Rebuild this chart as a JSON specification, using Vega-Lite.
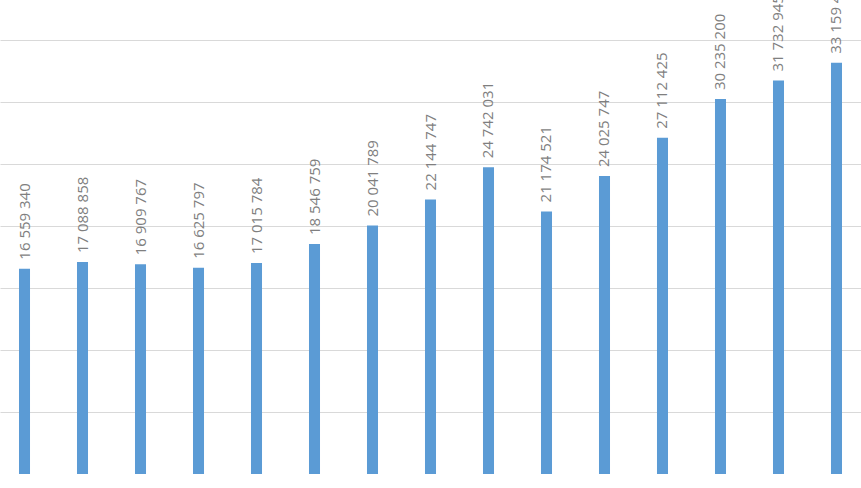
{
  "$schema": "https://vega.github.io/schema/vega-lite/v6.json",
  "width": 861,
  "height": 474,
  "padding": 0,
  "autosize": {"type": "none"},
  "background": "white",
  "config": {
    "view": {"stroke": null},
    "locale": {"number": {"decimal": ",", "thousands": " ", "grouping": [3], "currency": ["", ""]}}
  },
  "data": {"values": [
    {"year": "2005", "value": 16559340},
    {"year": "2006", "value": 17088858},
    {"year": "2007", "value": 16909767},
    {"year": "2008", "value": 16625797},
    {"year": "2009", "value": 17015784},
    {"year": "2010", "value": 18546759},
    {"year": "2011", "value": 20041789},
    {"year": "2012", "value": 22144747},
    {"year": "2013", "value": 24742031},
    {"year": "2014", "value": 21174521},
    {"year": "2015", "value": 24025747},
    {"year": "2016", "value": 27112425},
    {"year": "2017", "value": 30235200},
    {"year": "2018", "value": 31732945},
    {"year": "2019", "value": 33159412}
  ]},
  "encoding": {
    "x": {"field": "year", "type": "ordinal",
      "scale": {"paddingInner": 0.81, "paddingOuter": 0.3275},
      "axis": null},
    "y": {"field": "value", "type": "quantitative",
      "scale": {"domain": [0, 38225806], "nice": false, "zero": true},
      "axis": {"values": [0, 5000000, 10000000, 15000000, 20000000, 25000000, 30000000, 35000000],
        "grid": true, "gridColor": "#d9d9d9", "gridWidth": 1, "domain": false, "ticks": false, "labels": false, "title": null}}
  },
  "layer": [
    {"mark": {"type": "bar", "color": "#5b9bd5"}},
    {"mark": {"type": "text", "angle": 270, "align": "left", "baseline": "middle", "dx": 9,
       "font": "Open Sans", "fontSize": 15, "color": "#7f7f7f"},
     "encoding": {"text": {"field": "value", "type": "quantitative", "format": ",d"}}}
  ]
}
